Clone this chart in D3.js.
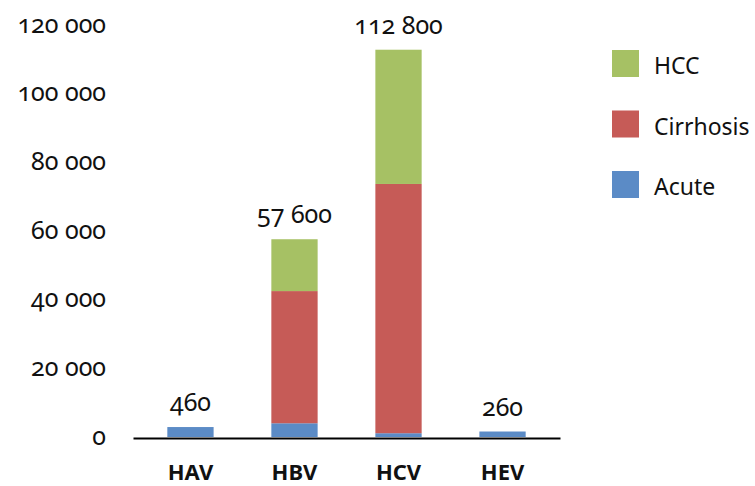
<!DOCTYPE html>
<html>
<head>
<meta charset="utf-8">
<script src="https://cdn.jsdelivr.net/npm/d3@7"></script>
<style>
  body { margin: 0; background: #fff; }
  svg text { font-family: "Noto Sans", sans-serif; font-variant-numeric: oldstyle-nums; fill: #111; }
</style>
</head>
<body>
<div id="chart"></div>
<script>
const width = 755;
const height = 486;

// data
const categories = ["HAV", "HBV", "HCV", "HEV"];
const acute = [2900, 4000, 1100, 1600];
const cirrhosis = [0, 38500, 72600, 0];
const hcc = [0, 15100, 39100, 0];
const totals = [460, 57600, 112800, 260];
const yTicks = [0, 20000, 40000, 60000, 80000, 100000, 120000];

const seriesNames = ["Acute", "Cirrhosis", "HCC"];
const colors = { Acute: "#5b8bc6", Cirrhosis: "#c65b57", HCC: "#a6c164" };

const locale = d3.formatLocale({ decimal: ".", thousands: " ", grouping: [3], currency: ["", ""] });
const formatValue = locale.format(",");

const rows = categories.map(function (c, i) {
  return { cat: c, Acute: acute[i], Cirrhosis: cirrhosis[i], HCC: hcc[i], total: totals[i] };
});

const svg = d3
  .select("#chart")
  .append("svg")
  .attr("width", width)
  .attr("height", height);

const x = d3
  .scaleBand()
  .domain(categories)
  .range([133, 560])
  .paddingInner(0.555)
  .paddingOuter(0.33);

const y = d3.scaleLinear().domain([0, 120000]).range([437, 25]);

const stack = d3.stack().keys(seriesNames);
const dataset = stack(rows);

// y labels, no axis line
svg
  .append("g")
  .selectAll("text")
  .data(yTicks)
  .enter()
  .append("text")
  .attr("x", 106)
  .attr("y", function (d) { return y(d); })
  .attr("dy", "0.3em")
  .attr("text-anchor", "end")
  .style("font-size", "25px")
  .text(function (d) { return formatValue(d); });

// bars
svg
  .selectAll("g.series")
  .data(dataset)
  .enter()
  .append("g")
  .attr("class", "series")
  .style("fill", function (d) { return colors[d.key]; })
  .selectAll("rect")
  .data(function (d) { return d; })
  .enter()
  .append("rect")
  .attr("x", function (d) { return x(d.data.cat); })
  .attr("y", function (d) { return y(d[1]); })
  .attr("height", function (d) { return y(d[0]) - y(d[1]); })
  .attr("width", x.bandwidth());

// x axis
const xAxis = d3.axisBottom(x).tickSizeInner(0).tickSizeOuter(0);
const gx = svg
  .append("g")
  .attr("transform", "translate(0,438)")
  .call(xAxis);
gx.select(".domain").attr("stroke", "#000").attr("stroke-width", 2);
gx.selectAll(".tick text")
  .attr("y", 42)
  .attr("dy", 0)
  .attr("fill", "#111")
  .style("font-size", "22px")
  .style("font-weight", "bold")
  .style("font-family", "'Noto Sans', sans-serif");

// totals above bars
svg
  .append("g")
  .selectAll("text")
  .data(rows)
  .enter()
  .append("text")
  .attr("x", function (d) { return x(d.cat) + x.bandwidth() / 2; })
  .attr("y", function (d) { return y(d.Acute + d.Cirrhosis + d.HCC) - 16; })
  .attr("text-anchor", "middle")
  .style("font-size", "25px")
  .text(function (d) { return formatValue(d.total); });

// legend
const legendOrder = ["HCC", "Cirrhosis", "Acute"];
const legend = svg
  .append("g")
  .selectAll("g")
  .data(legendOrder)
  .enter()
  .append("g")
  .attr("transform", function (d, i) { return "translate(612," + (50 + i * 60.5) + ")"; });

legend
  .append("rect")
  .attr("width", 27)
  .attr("height", 27)
  .style("fill", function (d) { return colors[d]; });

legend
  .append("text")
  .attr("x", 42)
  .attr("y", 24)
  .style("font-size", "23px")
  .text(function (d) { return d; });
</script>
</body>
</html>
